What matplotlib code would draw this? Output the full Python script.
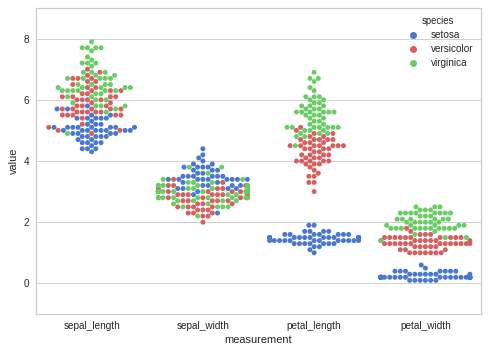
import matplotlib
matplotlib.use("Agg")
import matplotlib.pyplot as plt
import seaborn as sns
import pandas as pd

species_names = ["setosa", "versicolor", "virginica"]
measurements = ["sepal_length", "sepal_width", "petal_length", "petal_width"]

setosa_sepal_length = [5.1,4.9,4.7,4.6,5.0,5.4,4.6,5.0,4.4,4.9,5.4,4.8,4.8,4.3,5.8,5.7,5.4,5.1,5.7,5.1,
                       5.4,5.1,4.6,5.1,4.8,5.0,5.0,5.2,5.2,4.7,4.8,5.4,5.2,5.5,4.9,5.0,5.5,4.9,4.4,5.1,
                       5.0,4.5,4.4,5.0,5.1,4.8,5.1,4.6,5.3,5.0]
setosa_sepal_width = [3.5,3.0,3.2,3.1,3.6,3.9,3.4,3.4,2.9,3.1,3.7,3.4,3.0,3.0,4.0,4.4,3.9,3.5,3.8,3.8,
                      3.4,3.7,3.6,3.3,3.4,3.0,3.4,3.5,3.4,3.2,3.1,3.4,4.1,4.2,3.1,3.2,3.5,3.1,3.0,3.4,
                      3.5,2.3,3.2,3.5,3.8,3.0,3.8,3.2,3.7,3.3]
setosa_petal_length = [1.4,1.4,1.3,1.5,1.4,1.7,1.4,1.5,1.4,1.5,1.5,1.6,1.4,1.1,1.2,1.5,1.3,1.4,1.7,1.5,
                       1.7,1.5,1.0,1.7,1.9,1.6,1.6,1.5,1.4,1.6,1.6,1.5,1.5,1.4,1.5,1.2,1.3,1.5,1.3,1.5,
                       1.3,1.3,1.3,1.6,1.9,1.4,1.6,1.4,1.5,1.4]
setosa_petal_width = [0.2,0.2,0.2,0.2,0.2,0.4,0.3,0.2,0.2,0.1,0.2,0.2,0.1,0.1,0.2,0.4,0.4,0.3,0.3,0.3,
                      0.2,0.4,0.2,0.5,0.2,0.2,0.4,0.2,0.2,0.2,0.2,0.4,0.1,0.2,0.1,0.2,0.2,0.1,0.2,0.2,
                      0.3,0.3,0.2,0.6,0.4,0.3,0.2,0.2,0.2,0.2]

versicolor_sepal_length = [7.0,6.4,6.9,5.5,6.5,5.7,6.3,4.9,6.6,5.2,5.0,5.9,6.0,6.1,5.6,6.7,5.6,5.8,6.2,5.6,
                           5.9,6.1,6.3,6.1,6.4,6.6,6.8,6.7,6.0,5.7,5.5,5.5,5.8,6.0,5.4,6.0,6.7,6.3,5.6,5.5,
                           5.5,6.1,5.8,5.0,5.6,5.7,5.7,6.2,5.1,5.7]
versicolor_sepal_width = [3.2,3.2,3.1,2.3,2.8,2.8,3.3,2.4,2.9,2.7,2.0,3.0,2.2,2.9,2.9,3.1,3.0,2.7,2.2,2.5,
                          3.2,2.8,2.5,2.8,2.9,3.0,2.8,3.0,2.9,2.6,2.4,2.4,2.7,2.7,3.0,3.4,3.1,2.3,3.0,2.5,
                          2.6,3.0,2.6,2.3,2.7,3.0,2.9,2.9,2.5,2.8]
versicolor_petal_length = [4.7,4.5,4.9,4.0,4.6,4.5,4.7,3.3,4.6,3.9,3.5,4.2,4.0,4.7,3.6,4.4,4.5,4.1,4.5,3.9,
                           4.8,4.0,4.9,4.7,4.3,4.4,4.8,5.0,4.5,3.5,3.8,3.7,3.9,5.1,4.5,4.5,4.7,4.4,4.1,4.0,
                           4.4,4.6,4.0,3.3,4.2,4.2,4.2,4.3,3.0,4.1]
versicolor_petal_width = [1.4,1.5,1.5,1.3,1.5,1.3,1.6,1.0,1.3,1.4,1.0,1.5,1.0,1.4,1.3,1.4,1.5,1.0,1.5,1.1,
                          1.8,1.3,1.5,1.2,1.3,1.4,1.4,1.7,1.5,1.0,1.1,1.0,1.2,1.6,1.5,1.6,1.5,1.3,1.3,1.3,
                          1.2,1.4,1.2,1.0,1.3,1.2,1.3,1.3,1.1,1.3]

virginica_sepal_length = [6.3,5.8,7.1,6.3,6.5,7.6,4.9,7.3,6.7,7.2,6.5,6.4,6.8,5.7,5.8,6.4,6.5,7.7,7.7,6.0,
                          6.9,5.6,7.7,6.3,6.7,7.2,6.2,6.1,6.4,7.2,7.4,7.9,6.4,6.3,6.1,7.7,6.3,6.4,6.0,6.9,
                          6.7,6.9,5.8,6.8,6.7,6.7,6.3,6.5,6.2,5.9]
virginica_sepal_width = [3.3,2.7,3.0,2.9,3.0,3.0,2.5,2.9,2.5,3.6,3.2,2.7,3.0,2.5,2.8,3.2,3.0,3.8,2.6,2.2,
                         3.2,2.8,2.8,2.7,3.3,3.2,2.8,3.0,2.8,3.0,2.8,3.8,2.8,2.8,2.6,3.0,3.4,3.1,3.0,3.1,
                         3.1,3.1,2.7,3.2,3.3,3.0,2.5,3.0,3.4,3.0]
virginica_petal_length = [6.0,5.1,5.9,5.6,5.8,6.6,4.5,6.3,5.8,6.1,5.1,5.3,5.5,5.0,5.1,5.3,5.5,6.7,6.9,5.0,
                          5.7,4.9,6.7,4.9,5.7,6.0,4.8,4.9,5.6,5.8,6.1,6.4,5.6,5.1,5.6,6.1,5.6,5.5,4.8,5.4,
                          5.6,5.1,5.1,5.9,5.7,5.2,5.0,5.2,5.4,5.1]
virginica_petal_width = [2.5,1.9,2.1,1.8,2.2,2.1,1.7,1.8,1.8,2.5,2.0,1.9,2.1,2.0,2.4,2.3,1.8,2.2,2.3,1.5,
                         2.3,2.0,2.0,1.8,2.1,1.8,1.8,1.8,2.1,1.6,1.9,2.0,2.2,1.5,1.4,2.3,2.4,1.8,1.8,2.1,
                         2.4,2.3,1.9,2.3,2.5,2.3,1.9,2.0,2.3,1.8]

data = {
    "setosa": [setosa_sepal_length, setosa_sepal_width, setosa_petal_length, setosa_petal_width],
    "versicolor": [versicolor_sepal_length, versicolor_sepal_width, versicolor_petal_length, versicolor_petal_width],
    "virginica": [virginica_sepal_length, virginica_sepal_width, virginica_petal_length, virginica_petal_width],
}

rows = []
for m_i, m in enumerate(measurements):
    for sp in species_names:
        for v in data[sp][m_i]:
            rows.append((sp, m, v))
df = pd.DataFrame(rows, columns=["species", "measurement", "value"])

sns.set_theme(style="whitegrid")
plt.rcParams["font.family"] = ["Liberation Sans", "DejaVu Sans"]

palette = {"setosa": "#4878CF", "versicolor": "#D65F5F", "virginica": "#6ACC65"}

fig = plt.figure(figsize=(488/72, 352/72), dpi=72)
ax = fig.add_axes([36/488, 1-314/352, (481-36)/488, (314-8)/352])
sns.swarmplot(data=df, x="measurement", y="value", hue="species", order=measurements,
              hue_order=species_names, palette=palette, size=5, linewidth=0, ax=ax)
ax.set_ylim(-1, 9)
ax.set_yticks([0, 2, 4, 6, 8])
ax.tick_params(labelsize=10, colors="#262626", length=0, pad=7)
ax.set_xlabel("measurement", fontsize=11, color="#262626", labelpad=4)
ax.set_ylabel("value", fontsize=11, color="#262626", labelpad=4)
for s in ax.spines.values():
    s.set_color("#CCCCCC")
    s.set_linewidth(1.2)
ax.grid(axis="x", visible=False)
ax.grid(axis="y", color="#CCCCCC", linewidth=0.9)
leg = ax.legend(title="species", loc="upper right", frameon=False, fontsize=10, title_fontsize=9.5,
                markerscale=1.4, handletextpad=0.8, borderaxespad=0.4, labelspacing=0.4)
fig.savefig("out.png", dpi=72)
